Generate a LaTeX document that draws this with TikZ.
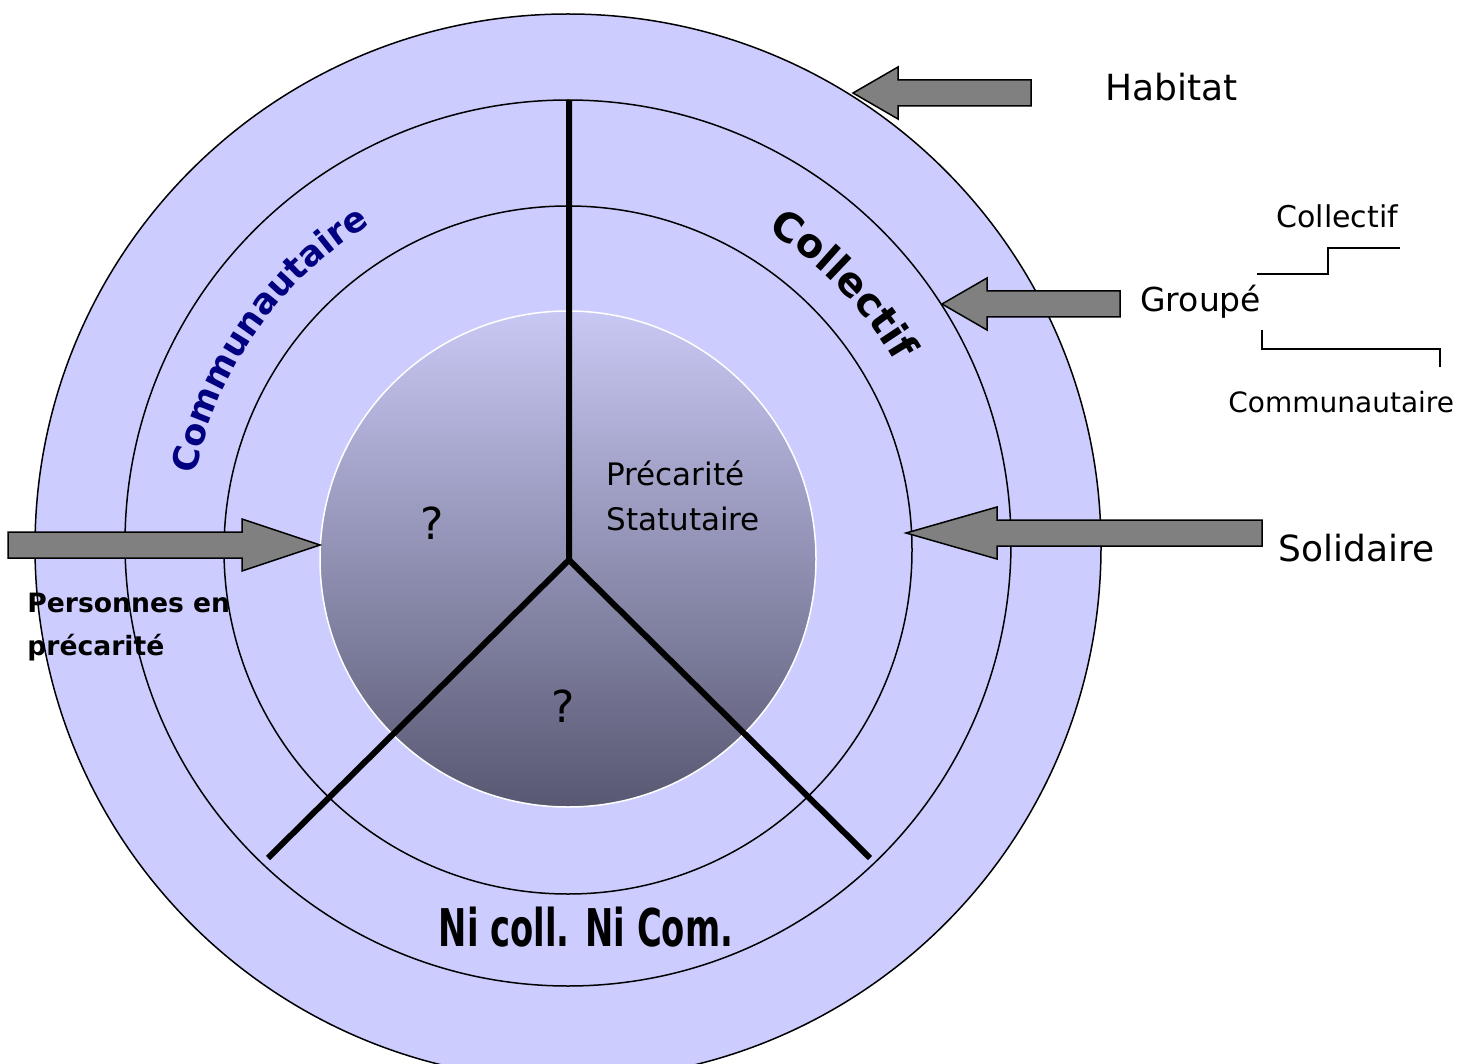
\documentclass[tikz,border=0pt]{standalone}
\usepackage{graphicx}
\usepackage{fontspec}
\setmainfont{DejaVu Sans}
\usetikzlibrary{calc, decorations.text}

\definecolor{ringblue}{RGB}{204,204,255}
\definecolor{shadetop}{RGB}{200,200,244}
\definecolor{shadebottom}{RGB}{88,88,114}
\definecolor{arrowgray}{RGB}{128,128,128}
\definecolor{navytext}{RGB}{0,0,128}

% block arrow: tail, tip, head length
\newcommand{\fatarrow}[3]{%
  \coordinate (hb) at ($(#2)!#3!(#1)$);
  \draw[blockarrow] (#2) -- ($(hb)!13pt!90:(#2)$) -- ($(hb)!6.5pt!90:(#2)$)
    -- ($(#1)!6.5pt!90:(#2)$) -- ($(#1)!6.5pt!-90:(#2)$)
    -- ($(hb)!6.5pt!-90:(#2)$) -- ($(hb)!13pt!-90:(#2)$) -- cycle;
}

\begin{document}
\begin{tikzpicture}[
    x=0.5pt, y=0.5pt,
    ring/.style={draw=black, line width=0.75pt},
    spoke/.style={line width=3pt},
    blockarrow/.style={draw=black, fill=arrowgray, line width=0.75pt, line join=miter},
    bracket/.style={line width=0.75pt},
    lbl/.style={inner sep=0pt, anchor=base west, align=left}
  ]
    \useasboundingbox (0,0) rectangle (1467,-1064);

    % Rings
    \fill[ringblue, ring] (568,-547) circle[radius=533];
    \draw[ring] (568,-543) circle[radius=443];
    \draw[ring] (568,-550) circle[radius=344];
    \shade[top color=shadetop, bottom color=shadebottom, draw=white, line width=0.75pt]
      (568,-559) circle[radius=248];

    % Spokes
    \coordinate (hub) at (569,-560);
    \coordinate (spoke n) at (569,-100);
    \coordinate (spoke sw) at (268,-858);
    \coordinate (spoke se) at (870,-858);
    \draw[spoke] (spoke n) -- (hub) -- (spoke sw);
    \draw[spoke] (hub) -- (spoke se);

    % Curved sector titles
    \coordinate (ctr) at (569,-550);
    \path[decorate, decoration={text along path, text align=center,
        text={|\fontsize{17.5}{20}\selectfont\bfseries\color{navytext}|Communautaire}}]
      ($(ctr)+(185:381)$) arc[start angle=185, end angle=105, radius=381];
    \path[decorate, decoration={text along path, text align=center,
        text={|\fontsize{20}{24}\selectfont\bfseries|Collectif}}]
      ($(ctr)+(84:376)$) arc[start angle=84, end angle=4, radius=376];
    \node[inner sep=0pt, anchor=base, font=\fontsize{26}{30}\selectfont\bfseries] (nicom)
      at (586,-946) {\scalebox{0.65}[1]{Ni coll. Ni Com.}};

    % Inner texts
    \node[font=\fontsize{22}{26}\selectfont] (q1) at (432,-523) {?};
    \node[font=\fontsize{22}{26}\selectfont] (q2) at (563,-706) {?};
    \node[lbl, font=\fontsize{15.5}{22.5}\selectfont] (statut) at (606,-530) {Précarité\\Statutaire};

    % Outer labels
    \node[lbl, font=\fontsize{18}{22}\selectfont] (habitat) at (1105,-101) {Habitat};
    \node[lbl, font=\fontsize{16.5}{20}\selectfont] (groupe) at (1140,-312) {Groupé};
    \node[lbl, font=\fontsize{15}{18}\selectfont] (collectif) at (1276,-228) {Collectif};
    \node[lbl, font=\fontsize{14}{18}\selectfont] (communaut) at (1228,-412) {Communautaire};
    \node[lbl, font=\fontsize{18}{22}\selectfont] (solidaire) at (1278,-561) {Solidaire};
    \node[lbl, font=\fontsize{13.3}{21.5}\selectfont\bfseries] (personnes) at (27,-655) {Personnes en\\précarité};

    % Arrows
    \coordinate (habitat tail) at (1031,-93);
    \coordinate (habitat tip) at (853,-93);
    \coordinate (groupe tail) at (1120,-304);
    \coordinate (groupe tip) at (942,-304);
    \coordinate (solidaire tail) at (1262,-533);
    \coordinate (solidaire tip) at (906,-533);
    \coordinate (personnes tail) at (8,-545);
    \coordinate (personnes tip) at (320,-545);
    \fatarrow{habitat tail}{habitat tip}{22.5pt}
    \fatarrow{groupe tail}{groupe tip}{22.5pt}
    \fatarrow{solidaire tail}{solidaire tip}{45.5pt}
    \fatarrow{personnes tail}{personnes tip}{39pt}

    % Groupé split
    \coordinate (up a) at (1257,-274);
    \coordinate (up b) at (1328,-248);
    \coordinate (up c) at (1400,-248);
    \coordinate (lo a) at (1262,-330);
    \coordinate (lo b) at (1440,-349);
    \coordinate (lo c) at (1440,-367);
    \draw[bracket] (up a) -| (up b) -- (up c);
    \draw[bracket] (lo a) |- (lo b) -- (lo c);
  \end{tikzpicture}
\end{document}
